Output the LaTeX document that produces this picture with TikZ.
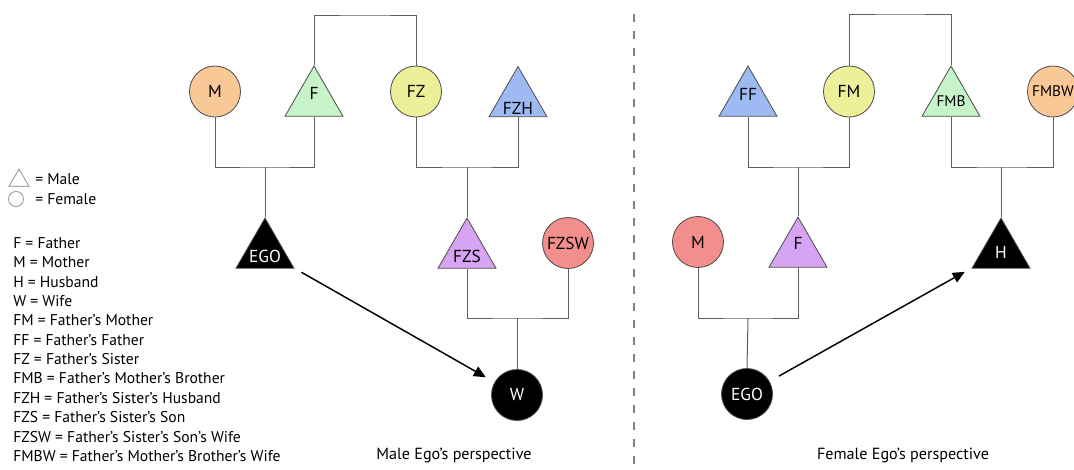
\documentclass[tikz,border=0pt]{standalone}
\usepackage{fontspec}
\setmainfont{PT Sans}
\usetikzlibrary{shapes.geometric, arrows.meta}

\definecolor{peach}{HTML}{F8C896}
\definecolor{mint}{HTML}{C6F3C8}
\definecolor{lemon}{HTML}{EDF098}
\definecolor{sky}{HTML}{9EBAF2}
\definecolor{lilac}{HTML}{D6A4F2}
\definecolor{rose}{HTML}{F28F8C}
\definecolor{shapeline}{HTML}{4A4A4A}
\definecolor{tiegray}{HTML}{5E5E5E}
\definecolor{dashgray}{HTML}{808080}

\begin{document}
\begin{tikzpicture}[x=0.75pt, y=-0.75pt,
  labfont/.style={font=\fontsize{13}{13}\selectfont},
  smallfont/.style={font=\fontsize{11.5}{11.5}\selectfont},
  person/.style={draw=shapeline, line width=0.6pt, inner sep=0pt, labfont},
  fem/.style={person, circle, minimum size=38.25pt},
  mal/.style={person, regular polygon, regular polygon sides=3, minimum size=50.2pt},
  ego/.style={fill=black, text=white},
  tie/.style={draw=tiegray, line width=0.75pt},
  arw/.style={line width=1.1pt, -{Triangle[length=9pt,width=8pt]}},
  legtext/.style={font=\fontsize{11.7}{13}\selectfont, anchor=west, inner sep=0pt},
  capt/.style={font=\fontsize{12.1}{13}\selectfont, inner sep=0pt},
  keysym/.style={draw=gray, line width=0.5pt, fill=white, inner sep=0pt},
]
\useasboundingbox (0,0) rectangle (1074,469);

% divider between the two perspectives
\draw[dashgray, line width=0.8pt, dash pattern=on 6pt off 6.75pt] (634,14) -- (634,469);

% ---------- male ego ----------
\node[fem, fill=peach] (lM) at (215,91.5) {M};
\node[mal, fill=mint, label={[labfont, yshift=4.9pt]center:F}] (lF) at (314,99.5) {};
\node[fem, fill=lemon] (lFZ) at (416,91.5) {FZ};
\node[mal, fill=sky, label={[labfont, yshift=-6pt]center:FZH}] (lFZH) at (518,100) {};
\node[mal, ego, label={[labfont, text=white, yshift=-4pt]center:EGO}] (lEGO) at (265,251.5) {};
\node[mal, fill=lilac, label={[labfont, yshift=-4pt]center:FZS}] (lFZS) at (467,251.5) {};
\node[fem, fill=rose] (lFZSW) at (568,243) {FZSW};
\node[fem, ego] (lW) at (517,395) {W};

\coordinate (lsib) at (365,15);
\coordinate (lj1) at (265,167);
\coordinate (lj2) at (467,167);
\coordinate (lj3) at (517,318);

\draw[tie] (lF.north) |- (lsib) -| (lFZ.north);
\draw[tie] (lM.south) |- (lj1) -| (lF.south);
\draw[tie] (lj1) -- (lEGO.north);
\draw[tie] (lFZ.south) |- (lj2) -| (lFZH.south);
\draw[tie] (lj2) -- (lFZS.north);
\draw[tie] (lFZS.south) |- (lj3) -| (lFZSW.south);
\draw[tie] (lj3) -- (lW.north);

\draw[arw, shorten <=6pt, shorten >=7.5pt] (lEGO) -- (lW);

\node[capt] (lcap) at (454,455) {Male Ego’s perspective};

% ---------- female ego ----------
\node[mal, fill=sky, label={[labfont, yshift=4pt]center:FF}] (rFF) at (748,99.5) {};
\node[fem, fill=lemon] (rFM) at (849,91.5) {FM};
\node[mal, fill=mint, label={[smallfont, yshift=-1pt]center:FMB}] (rFMB) at (951,99.5) {};
\node[fem, fill=peach, smallfont] (rFMBW) at (1053,91.5) {FMBW};
\node[fem, fill=rose] (rM) at (698,242) {M};
\node[mal, fill=lilac, label={[labfont, yshift=5.6pt]center:F}] (rF) at (798,250.5) {};
\node[mal, ego, label={[labfont, text=white, yshift=-1pt]center:H}] (rH) at (1001,251.5) {};
\node[fem, ego] (rEGO) at (747,394) {EGO};

\coordinate (rsib) at (900,14);
\coordinate (rj1) at (798,167);
\coordinate (rj2) at (1001,167);
\coordinate (rj3) at (748,318);

\draw[tie] (rFM.north) |- (rsib) -| (rFMB.north);
\draw[tie] (rFF.south) |- (rj1) -| (rFM.south);
\draw[tie] (rj1) -- (rF.north);
\draw[tie] (rFMB.south) |- (rj2) -| (rFMBW.south);
\draw[tie] (rj2) -- (rH.north);
\draw[tie] (rM.south) |- (rj3) -| (rF.south);
\draw[tie] (rj3) -- (rEGO.north);

\draw[arw, shorten <=8pt, shorten >=6pt] (rEGO) -- (rH);

\node[capt] (rcap) at (903,455) {Female Ego’s perspective};

% ---------- key ----------
\node[keysym, regular polygon, regular polygon sides=3, minimum size=17.3pt] (kmale) at (19,180.5) {};
\node[keysym, circle, minimum size=11.25pt] (kfem) at (16,199) {};
\node[legtext] (kmaletxt) at (35,179) {= Male};
\node[legtext] (kfemtxt) at (35,199) {= Female};

\foreach \txt [count=\i from 0] in {
  F = Father,
  M = Mother,
  H = Husband,
  W = Wife,
  FM = Father’s Mother,
  FF = Father’s Father,
  FZ = Father’s Sister,
  FMB = Father’s Mother’s Brother,
  FZH = Father’s Sister’s Husband,
  FZS = Father’s Sister’s Son,
  FZSW = Father’s Sister’s Son’s Wife,
  FMBW = Father’s Mother’s Brother’s Wife}
  \node[legtext] (key\i) at (13,{243+19.36*\i}) {\txt};
\end{tikzpicture}
\end{document}
